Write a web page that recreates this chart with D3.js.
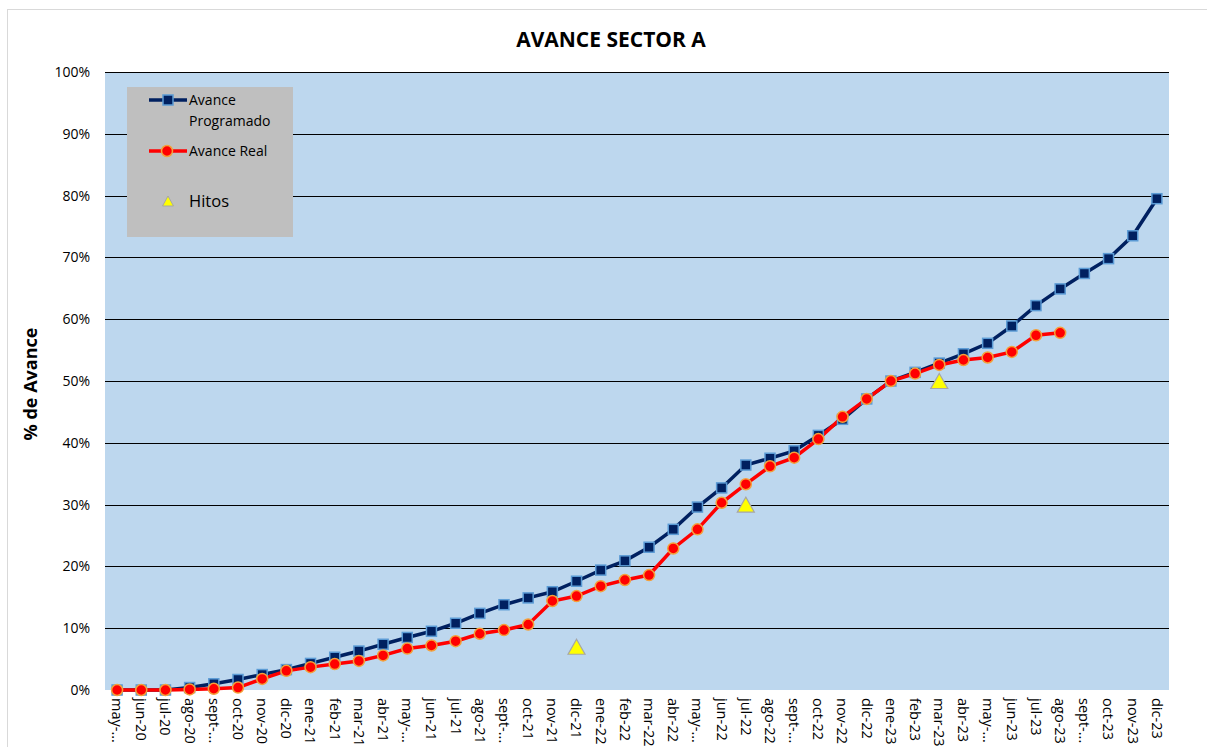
<!DOCTYPE html>
<html><head><meta charset="utf-8">
<script src="https://cdn.jsdelivr.net/npm/d3@7"></script>
<style>body{margin:0;background:#fff;overflow:hidden;} text{font-family:"Open Sans","Noto Sans",sans-serif;}</style>
</head><body>
<svg id="c" width="1207" height="747"></svg>
<script>
const categories = ["may-...","jun-20","jul-20","ago-20","sept-...","oct-20","nov-20","dic-20",
"ene-21","feb-21","mar-21","abr-21","may-...","jun-21","jul-21","ago-21","sept-...","oct-21","nov-21","dic-21",
"ene-22","feb-22","mar-22","abr-22","may-...","jun-22","jul-22","ago-22","sept-...","oct-22","nov-22","dic-22",
"ene-23","feb-23","mar-23","abr-23","may-...","jun-23","jul-23","ago-23","sept-...","oct-23","nov-23","dic-23"];
const programado = [0,0,0,0.4,1.0,1.7,2.5,3.3,4.3,5.3,6.3,7.4,8.5,9.5,10.8,12.4,13.8,14.9,15.9,17.6,
19.4,20.9,23.1,26.0,29.6,32.7,36.4,37.5,38.7,41.2,43.8,47.1,50.0,51.4,52.9,54.4,56.1,58.9,62.2,64.9,67.4,69.8,73.5,79.5];
const real = [0,0,0,0.1,0.2,0.4,1.8,3.1,3.7,4.2,4.7,5.6,6.7,7.2,7.9,9.1,9.7,10.6,14.4,15.2,
16.8,17.8,18.6,22.9,26.0,30.3,33.3,36.2,37.6,40.6,44.2,47.1,50.0,51.2,52.6,53.4,53.8,54.7,57.4,57.8];
const hitos = [{cat:"dic-21", i:19, v:7},{cat:"jul-22", i:26, v:30},{cat:"mar-23", i:34, v:50}];
const yTicks = [0,10,20,30,40,50,60,70,80,90,100];

const svg = d3.select("#c");
const L=105, R=1169, T=72, B=690;
svg.append("rect").attr("x",7.5).attr("y",9.5).attr("width",1210).attr("height",760).attr("fill","none").attr("stroke","#d9d9d9");

const x = d3.scaleBand().domain(d3.range(categories.length)).range([L,R]);
const cx = i => x(i)+x.bandwidth()/2;
const y = d3.scaleLinear().domain([0,100]).range([B,T]);

svg.append("rect").attr("x",L).attr("y",T).attr("width",R-L).attr("height",B-T).attr("fill","#BDD7EE");
svg.append("g").selectAll("line").data(yTicks.filter(d=>d>0)).join("line")
  .attr("x1",L).attr("x2",R).attr("y1",d=>Math.round(y(d))+0.5).attr("y2",d=>Math.round(y(d))+0.5)
  .attr("stroke","#000").attr("stroke-width",1);

const ya = svg.append("g").attr("transform",`translate(${L},0)`)
  .call(d3.axisLeft(y).tickValues(yTicks).tickFormat(d=>d+"%").tickSize(0).tickPadding(15));
ya.select(".domain").remove();
ya.selectAll("text").attr("font-size",14).attr("fill","#000");

const xa = svg.append("g").attr("transform",`translate(0,${B})`)
  .call(d3.axisBottom(x).tickFormat(i=>categories[i]).tickSize(0));
xa.select(".domain").remove();
xa.selectAll("text").attr("font-size",14.5).attr("fill","#000")
  .attr("text-anchor","start").attr("dy","0.35em")
  .attr("transform","translate(0,8) rotate(90)").attr("x",0).attr("y",0);

const line = d3.line().x((d,i)=>cx(i)).y(d=>y(d));
svg.append("path").datum(programado).attr("d",line).attr("fill","none").attr("stroke","#002060").attr("stroke-width",3.5);
svg.append("path").datum(real).attr("d",line).attr("fill","none").attr("stroke","#FF0000").attr("stroke-width",3.5);

svg.append("g").selectAll("rect").data(programado).join("rect")
  .attr("x",(d,i)=>cx(i)-5).attr("y",d=>y(d)-5).attr("width",10).attr("height",10)
  .attr("fill","#002060").attr("stroke","#5B9BD5").attr("stroke-width",1.5);
svg.append("g").selectAll("circle").data(real).join("circle")
  .attr("cx",(d,i)=>cx(i)).attr("cy",d=>y(d)).attr("r",5.5)
  .attr("fill","#FF0000").attr("stroke","#F4A13A").attr("stroke-width",1.5);

const tri = (px,py,w,h)=>`M${px},${py-h/2}L${px+w/2},${py+h/2}L${px-w/2},${py+h/2}Z`;
svg.append("g").selectAll("path").data(hitos).join("path")
  .attr("d",d=>tri(cx(d.i),y(d.v),17,15))
  .attr("fill","#FFFF00").attr("stroke","#A6A6A6").attr("stroke-width",1.2);

svg.append("text").attr("x",611).attr("y",47).attr("text-anchor","middle")
  .attr("font-size",21).attr("font-weight","bold").text("AVANCE SECTOR A");
svg.append("text").attr("transform","translate(37,384) rotate(-90)").attr("text-anchor","middle")
  .attr("font-size",18).attr("font-weight","bold").text("% de Avance");

const lg = svg.append("g");
lg.append("rect").attr("x",127).attr("y",87).attr("width",166).attr("height",150).attr("fill","#BFBFBF");
lg.append("line").attr("x1",149).attr("x2",187).attr("y1",100).attr("y2",100).attr("stroke","#002060").attr("stroke-width",3.5);
lg.append("rect").attr("x",163).attr("y",95).attr("width",10).attr("height",10).attr("fill","#002060").attr("stroke","#5B9BD5").attr("stroke-width",1.5);
lg.append("text").attr("x",189).attr("y",105).attr("font-size",14).text("Avance");
lg.append("text").attr("x",189).attr("y",126).attr("font-size",14).text("Programado");
lg.append("line").attr("x1",149).attr("x2",187).attr("y1",151).attr("y2",151).attr("stroke","#FF0000").attr("stroke-width",3.5);
lg.append("circle").attr("cx",167).attr("cy",151).attr("r",5.5).attr("fill","#FF0000").attr("stroke","#F4A13A").attr("stroke-width",1.5);
lg.append("text").attr("x",189).attr("y",156).attr("font-size",14).text("Avance Real");
lg.append("path").attr("d",tri(168,201,11,10)).attr("fill","#FFFF00").attr("stroke","#A6A6A6").attr("stroke-width",1);
lg.append("text").attr("x",189).attr("y",207).attr("font-size",16.5).text("Hitos");
</script>
</body></html>
